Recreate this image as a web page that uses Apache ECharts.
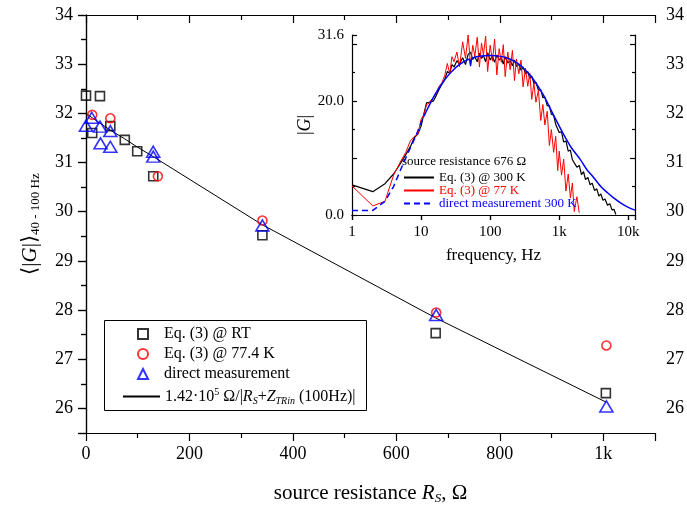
<!DOCTYPE html>
<html>
<head>
<meta charset="utf-8">
<script src="https://cdn.jsdelivr.net/npm/echarts@6/dist/echarts.min.js"></script>
<style>
  html, body { margin: 0; padding: 0; background: #fff; }
  #chart { width: 687px; height: 510px; }
</style>
</head>
<body>
<div id="chart"></div>
<script>
// main plot: <|G|> (40-100 Hz) vs source resistance
const rtRs = [0, 27, 12, 47, 75, 99, 130, 341, 676, 1005];
const rtG = [32.36, 32.35, 31.6, 31.74, 31.46, 31.23, 30.72, 29.52, 27.53, 26.31];
const lnRs = [12, 47, 139, 341, 677, 1006];
const lnG = [31.97, 31.9, 30.72, 29.82, 27.95, 27.28];
const dmRs = [0, 11, 27, 28, 47, 47, 130, 130, 341, 677, 1006];
const dmG = [31.75, 31.91, 31.73, 31.39, 31.64, 31.32, 31.22, 31.12, 29.72, 27.9, 26.04];
const fitRs = [0, 12, 27, 47, 75, 100, 130, 340, 676, 1005];
const fitG = [32.0, 31.91, 31.8, 31.66, 31.48, 31.31, 31.12, 29.74, 27.84, 26.13];

// inset: |G| vs frequency, Hz
const freq = [1, 2, 3, 4, 5, 6, 7, 8, 9, 10, 11, 12, 13, 14, 15, 16, 18, 20, 22, 24, 26, 28, 30, 33, 36, 40,
  44, 48, 52, 56, 60, 65, 70, 75, 80, 86, 92, 100, 108, 116, 125, 135, 145, 155, 165, 180, 195, 210, 225, 240,
  260, 280, 300, 325, 350, 375, 400, 430, 460, 500, 540, 580, 620, 670, 720, 770, 830, 890, 950, 1000, 1080,
  1160, 1250, 1350, 1450, 1550, 1650, 1800, 1950, 2100, 2250, 2400, 2600, 2800, 3000, 3250, 3500, 3750, 4000,
  4300, 4600, 5000, 5400, 5800, 6200, 6600];
const g300 = [5.3, 4.1, 5.5, 7.2, 9.0, 10.6, 12.0, 13.6, 14.2, 15.6, 17.8, 19.7, 19.8, 19.9, 20.0, 20.6, 21.9,
  23.0, 23.8, 25.2, 24.9, 26.4, 26.0, 27.1, 26.5, 27.6, 26.4, 28.2, 28.6, 27.3, 27.8, 26.9, 28.4, 27.5, 28.0,
  26.9, 28.5, 27.2, 27.9, 26.8, 28.1, 27.2, 27.6, 26.5, 27.8, 26.7, 27.1, 26.2, 27.2, 26.1, 26.5, 25.4, 26.0,
  24.8, 25.2, 24.0, 24.4, 23.1, 23.3, 21.9, 22.0, 20.6, 20.7, 19.2, 19.2, 17.7, 17.5, 15.9, 16.0, 14.5, 14.6,
  12.8, 13.0, 11.2, 11.4, 9.7, 10.0, 8.4, 8.7, 7.1, 7.6, 6.2, 6.6, 5.3, 5.6, 4.3, 4.6, 3.3, 3.7, 2.6, 2.8,
  1.7, 2.0, 0.9, 1.0, 0.1];
const g77 = [5.1, 1.6, 2.4, 7.0, 9.3, 11.0, 13.0, 13.8, 14.2, 16.8, 17.6, 19.4, 19.6, 20.2, 20.6, 21.0, 22.5,
  23.2, 24.5, 26.6, 24.8, 27.8, 26.9, 28.6, 26.0, 30.4, 27.5, 31.6, 26.3, 29.8, 27.9, 31.2, 26.0, 30.2, 28.1,
  31.4, 25.2, 29.8, 27.0, 30.9, 24.6, 29.2, 26.8, 29.9, 24.3, 28.6, 25.5, 28.9, 23.6, 27.4, 24.8, 27.2, 22.5,
  25.8, 22.6, 24.9, 20.3, 23.2, 19.8, 21.9, 16.6, 19.4, 15.8, 18.2, 12.2, 15.0, 11.0, 13.8, 7.8, 11.2, 7.0,
  9.8, 4.2, 7.2, 3.0, 5.6, 0.6, 3.2, 0.4];
const freqDirect = [1, 2, 3, 4, 5, 6, 7, 8, 9, 10, 11, 12, 14, 16, 18, 20, 25, 30, 35, 40, 48, 50, 52, 54, 60,
  70, 80, 100, 120, 150, 200, 250, 300, 400, 500, 600, 700, 800, 1000, 1200, 1500, 2000, 2500, 3000, 4000,
  5000, 6000, 8000, 10000, 12500];
const gDirect = [0.8, 0.8, 2.4, 5.0, 7.8, 10.0, 11.8, 13.3, 14.8, 16.2, 17.3, 18.3, 19.9, 21.2, 22.2, 23.0,
  24.6, 25.6, 26.3, 26.8, 27.3, 27.4, 26.2, 27.4, 27.7, 27.85, 27.95, 28.0, 27.95, 27.8, 27.3, 26.6, 25.8,
  24.2, 22.5, 20.9, 19.3, 17.9, 15.6, 13.8, 11.8, 9.8, 8.0, 6.9, 5.0, 3.9, 3.1, 2.0, 1.35, 0.85];
const dashedUntil = 11; // points of the direct curve drawn dashed

const fitName = 'fit';
const serif = 'Liberation Serif';

const pairs = (xs, ys) => ys.map((y, i) => [xs[i], y]);

const chart = echarts.init(document.getElementById('chart'), null, { renderer: 'canvas' });

const black = '#000';
const lineSt = { color: black, width: 1.2 };
const noSym = { opacity: 0 };

const mainLabel = { fontFamily: serif, fontSize: 18, color: black };
const insetLabel = { fontFamily: serif, fontSize: 15, color: black };
const legendRich = {
  t: { fontFamily: serif, fontSize: 16, color: black, lineHeight: 19 },
  p: { fontFamily: serif, fontSize: 16, color: black, lineHeight: 19, padding: [0, 0, 0, 11] },
  i: { fontFamily: serif, fontSize: 16, fontStyle: 'italic', color: black, lineHeight: 19 },
  sup: { fontFamily: serif, fontSize: 10, color: black, verticalAlign: 'top', lineHeight: 19 },
  sub: { fontFamily: serif, fontSize: 10, fontStyle: 'italic', color: black, verticalAlign: 'bottom', lineHeight: 14, padding: [8, 0, 0, 0] }
};

const options = {
  animation: false,
  backgroundColor: '#fff',
  grid: [
    { left: 86, right: 30, top: 15, bottom: 75 },
    { left: 352, right: 52, top: 35, bottom: 295, show: true, backgroundColor: '#fff', borderWidth: 0 }
  ],
  title: {
    text: 'source resistance 676 Ω',
    left: 402, top: 155, padding: 0,
    textStyle: { fontFamily: serif, fontSize: 13, fontWeight: 'normal', color: black, lineHeight: 14 }
  },
  graphic: [
    {
      // frame of the main legend
      type: 'rect', left: 104, top: 320, z: 1,
      shape: { width: 262, height: 90 },
      style: { fill: '#fff', stroke: black, lineWidth: 1 }
    }
  ],
  legend: [
    {
      orient: 'vertical',
      left: 137, top: 326, padding: 0,
      itemWidth: 10, itemHeight: 10, itemGap: 4,
      data: ['Eq. (3) @ RT', 'Eq. (3) @ 77.4 K', 'direct measurement'],
      formatter: (name) => '{p|' + name + '}',
      textStyle: { fontFamily: serif, fontSize: 16, color: black, rich: legendRich }
    },
    {
      orient: 'vertical',
      left: 122, top: 387, padding: 0,
      itemWidth: 37, itemHeight: 10,
      data: [{ name: fitName, itemStyle: noSym }],
      formatter: () => '{t|1.42·10}{sup|5}{t| Ω/|}{i|R}{sub|S}{t|+}{i|Z}{sub|TRin}{t| (100Hz)|}',
      textStyle: { fontFamily: serif, fontSize: 16, color: black, rich: legendRich }
    },
    {
      // inset legend
      orient: 'vertical',
      left: 403, top: 171, padding: 0,
      itemWidth: 30, itemHeight: 10, itemGap: 0,
      data: [
        { name: 'Eq. (3) @ 300 K', itemStyle: noSym, textStyle: { color: '#000' } },
        { name: 'Eq. (3) @ 77 K', itemStyle: noSym, textStyle: { color: '#ff0000' } },
        { name: 'direct measurement 300 K', itemStyle: noSym, textStyle: { color: '#0000ff' } }
      ],
      textStyle: { fontFamily: serif, fontSize: 13, lineHeight: 13 }
    }
  ],
  xAxis: [
    {
      gridIndex: 0, type: 'value', position: 'bottom',
      min: 0, max: 1100, interval: 200,
      axisLine: { lineStyle: lineSt },
      axisTick: { inside: false, length: 8, lineStyle: lineSt },
      minorTick: { show: true, splitNumber: 2, length: 5, lineStyle: lineSt },
      splitLine: { show: false },
      axisLabel: Object.assign({ margin: 12, formatter: (v) => v === 1000 ? '1k' : (v > 1000 ? '' : String(v)) }, mainLabel),
      name: '{t|source resistance }{i|R}{sub|S}{t|, Ω}',
      nameLocation: 'middle', nameGap: 49,
      nameTextStyle: {
        rich: {
          t: { fontFamily: serif, fontSize: 21, color: black },
          i: { fontFamily: serif, fontSize: 21, fontStyle: 'italic', color: black },
          sub: { fontFamily: serif, fontSize: 13, fontStyle: 'italic', color: black, verticalAlign: 'bottom', padding: [10, 0, 0, 0] }
        }
      }
    },
    {
      gridIndex: 0, type: 'value', position: 'top',
      min: 0, max: 1100, interval: 200,
      axisLine: { lineStyle: lineSt },
      axisTick: { inside: true, length: 8, lineStyle: lineSt },
      minorTick: { show: true, splitNumber: 2, length: 5, lineStyle: lineSt },
      splitLine: { show: false },
      axisLabel: { show: false }
    },
    {
      gridIndex: 1, type: 'log', logBase: 10, position: 'bottom',
      min: 1, max: 12500,
      axisLine: { lineStyle: lineSt },
      axisTick: { inside: false, length: 5, lineStyle: lineSt },
      splitLine: { show: false },
      axisLabel: Object.assign({
        margin: 10,
        formatter: (v) => ({ 1: '1', 10: '10', 100: '100', 1000: '1k', 10000: '10k' }[Math.round(v)] || '')
      }, insetLabel),
      name: 'frequency, Hz',
      nameLocation: 'middle', nameGap: 32,
      nameTextStyle: { fontFamily: serif, fontSize: 17, color: black }
    },
    {
      gridIndex: 1, type: 'log', logBase: 10, position: 'top',
      min: 1, max: 12500,
      axisLine: { lineStyle: lineSt },
      axisTick: { inside: true, length: 5, lineStyle: lineSt },
      splitLine: { show: false },
      axisLabel: { show: false }
    }
  ],
  yAxis: [
    {
      gridIndex: 0, type: 'value', position: 'left',
      min: 25.5, max: 34, minInterval: 1, maxInterval: 1,
      axisLine: { lineStyle: lineSt },
      axisTick: { inside: false, length: 8, lineStyle: lineSt },
      minorTick: { show: true, splitNumber: 2, length: 5, lineStyle: lineSt },
      splitLine: { show: false },
      axisLabel: Object.assign({ margin: 13, formatter: (v) => v % 1 === 0 ? String(v) : '' }, mainLabel),
      name: '{t|⟨|}{i|G}{t||⟩}{sub|40 - 100 Hz}',
      nameLocation: 'middle', nameGap: 44, nameRotate: 90,
      nameTextStyle: {
        rich: {
          t: { fontFamily: serif, fontSize: 21, color: black },
          i: { fontFamily: serif, fontSize: 21, fontStyle: 'italic', color: black },
          sub: { fontFamily: serif, fontSize: 13, color: black, verticalAlign: 'bottom', padding: [10, 0, 0, 0] }
        }
      }
    },
    {
      gridIndex: 0, type: 'value', position: 'right',
      min: 25.5, max: 34, minInterval: 1, maxInterval: 1,
      axisLine: { lineStyle: lineSt },
      axisTick: { inside: true, length: 8, lineStyle: lineSt },
      minorTick: { show: true, splitNumber: 2, length: 5, lineStyle: lineSt },
      splitLine: { show: false },
      axisLabel: Object.assign({ margin: 11, formatter: (v) => v % 1 === 0 ? String(v) : '' }, mainLabel)
    },
    {
      gridIndex: 1, type: 'value', position: 'left',
      min: 0, max: 31.6, interval: 10,
      axisLine: { lineStyle: lineSt },
      axisTick: { inside: true, length: 5, lineStyle: lineSt },
      minorTick: { show: true, splitNumber: 2, length: 3, lineStyle: lineSt },
      splitLine: { show: false },
      axisLabel: Object.assign({
        margin: 8,
        formatter: (v) => v === 0 ? '0.0' : v === 20 ? '20.0' : v === 31.6 ? '31.6' : ''
      }, insetLabel),
      name: '{t||}{i|G}{t||}',
      nameLocation: 'middle', nameGap: 38, nameRotate: 90,
      nameTextStyle: {
        rich: {
          t: { fontFamily: serif, fontSize: 18, color: black },
          i: { fontFamily: serif, fontSize: 18, fontStyle: 'italic', color: black }
        }
      }
    },
    {
      gridIndex: 1, type: 'value', position: 'right',
      min: 0, max: 31.6, interval: 10,
      axisLine: { lineStyle: lineSt },
      axisTick: { inside: true, length: 5, lineStyle: lineSt },
      minorTick: { show: true, splitNumber: 2, length: 3, lineStyle: lineSt },
      splitLine: { show: false },
      axisLabel: { show: false }
    }
  ],
  series: [
    {
      name: fitName, type: 'line', xAxisIndex: 0, yAxisIndex: 0,
      data: pairs(fitRs, fitG), showSymbol: false, symbol: 'none',
      lineStyle: { color: black, width: 1 }, itemStyle: { color: black }, z: 2
    },
    {
      name: 'Eq. (3) @ RT', type: 'scatter', xAxisIndex: 0, yAxisIndex: 0,
      data: pairs(rtRs, rtG), symbol: 'rect', symbolSize: 9,
      itemStyle: { color: 'rgba(255,255,255,0)', borderColor: black, borderWidth: 1.6 }, z: 3
    },
    {
      name: 'Eq. (3) @ 77.4 K', type: 'scatter', xAxisIndex: 0, yAxisIndex: 0,
      data: pairs(lnRs, lnG), symbol: 'circle', symbolSize: 9,
      itemStyle: { color: 'rgba(255,255,255,0)', borderColor: '#ff0000', borderWidth: 1.6 }, z: 3
    },
    {
      name: 'direct measurement', type: 'scatter', xAxisIndex: 0, yAxisIndex: 0,
      data: pairs(dmRs, dmG), symbol: 'triangle', symbolSize: [13, 11],
      itemStyle: { color: 'rgba(255,255,255,0)', borderColor: '#0000ff', borderWidth: 1.6 }, z: 4
    },
    {
      name: 'Eq. (3) @ 300 K', type: 'line', xAxisIndex: 2, yAxisIndex: 2,
      data: pairs(freq, g300), showSymbol: false, symbol: 'none',
      lineStyle: { color: black, width: 1.2 }, itemStyle: { color: black }
    },
    {
      name: 'Eq. (3) @ 77 K', type: 'line', xAxisIndex: 2, yAxisIndex: 2,
      data: pairs(freq, g77), showSymbol: false, symbol: 'none',
      lineStyle: { color: '#ff0000', width: 1 }, itemStyle: { color: '#ff0000' }
    },
    {
      name: 'direct measurement 300 K', type: 'line', xAxisIndex: 2, yAxisIndex: 2,
      data: pairs(freqDirect.slice(0, dashedUntil), gDirect.slice(0, dashedUntil)),
      showSymbol: false, symbol: 'none',
      lineStyle: { color: '#0000ff', width: 1.5, type: [6, 4] }, itemStyle: { color: '#0000ff' }
    },
    {
      name: 'direct measurement 300 K', type: 'line', xAxisIndex: 2, yAxisIndex: 2,
      data: pairs(freqDirect.slice(dashedUntil - 1), gDirect.slice(dashedUntil - 1)),
      showSymbol: false, symbol: 'none', smooth: 0.3,
      lineStyle: { color: '#0000ff', width: 1.5 }, itemStyle: { color: '#0000ff' }
    }
  ]
};

chart.setOption(options);

window.addEventListener('resize', () => {
  chart.resize();
});
</script>
</body>
</html>
